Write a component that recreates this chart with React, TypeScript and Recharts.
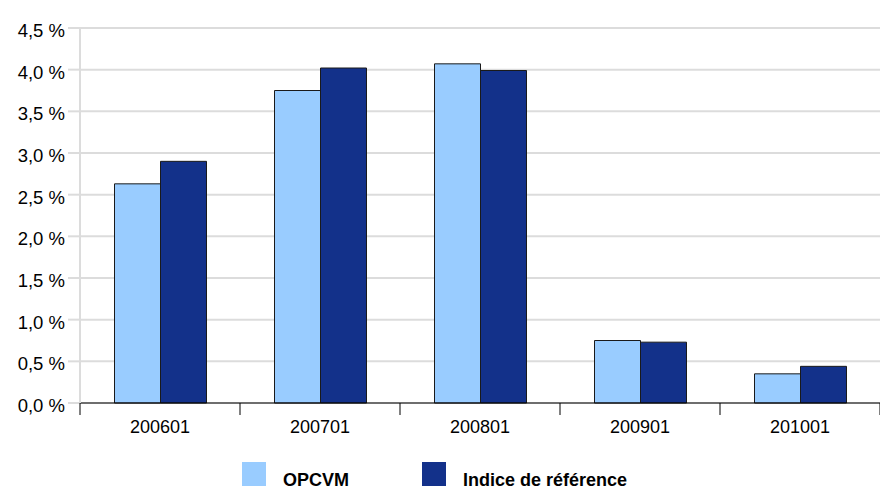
import React from "react";
import { BarChart, Bar, XAxis, YAxis, CartesianGrid, Legend } from "recharts";

const periods = ["200601", "200701", "200801", "200901", "201001"];
const opcvm = [2.63, 3.75, 4.07, 0.75, 0.35];
const indice = [2.9, 4.02, 3.99, 0.73, 0.44];
const yTicks = [0, 0.5, 1, 1.5, 2, 2.5, 3, 3.5, 4, 4.5];

const seriesNames = ["OPCVM", "Indice de référence"];
const COLORS = ["#99ccff", "#13318a"];

const data = periods.map((p, i) => ({ period: p, opcvm: opcvm[i], indice: indice[i] }));

const W = 880;
const H = 489;
const LEFT = 80;
const halfBand = (W - LEFT) / periods.length / 2;

const fmt = (v: number) => v.toFixed(1).replace(".", ",") + " %";

// label + boundary tick marks (ticks sit between categories, not under them)
function PeriodTick(props: any) {
  const { x, y, payload, index } = props;
  return (
    <g>
      <line x1={x - halfBand} y1={y} x2={x - halfBand} y2={y + 12} stroke="#000" />
      {index === periods.length - 1 && (
        <line x1={x + halfBand} y1={y} x2={x + halfBand} y2={y + 12} stroke="#000" />
      )}
      <text x={x} y={y + 30} textAnchor="middle" fontSize={18} fill="#000">
        {payload.value}
      </text>
    </g>
  );
}

function LegendBox() {
  return (
    <div style={{ height: 46, position: "relative", fontFamily: "'Liberation Sans', Arial, sans-serif" }}>
      {seriesNames.map((name, i) => (
        <div
          key={name}
          style={{ position: "absolute", top: 19, left: i === 0 ? 242 : 422, display: "flex", alignItems: "flex-end" }}
        >
          <div style={{ width: 24, height: 24, background: COLORS[i] }} />
          <span style={{ marginLeft: 17, fontSize: 18, fontWeight: "bold", lineHeight: "16px", position: "relative", top: 2, whiteSpace: "nowrap" }}>
            {name}
          </span>
        </div>
      ))}
    </div>
  );
}

export default function App() {
  return (
    <div style={{ position: "absolute", left: 0, top: 0, fontFamily: "'Liberation Sans', Arial, sans-serif" }}>
      <BarChart
        width={W}
        height={H}
        data={data}
        margin={{ top: 28, right: 0, bottom: 0, left: 0 }}
        barCategoryGap={34.5}
        barGap={0}
      >
        <CartesianGrid vertical={false} stroke="#dcdcdc" strokeWidth={2} />
        <XAxis
          dataKey="period"
          height={40}
          axisLine={{ stroke: "#000" }}
          tickLine={false}
          tickSize={0}
          tickMargin={0}
          tick={<PeriodTick />}
          interval={0}
        />
        <YAxis
          width={LEFT}
          domain={[0, 4.5]}
          ticks={yTicks}
          tickFormatter={fmt}
          tickSize={12}
          tickMargin={3}
          axisLine={{ stroke: "#dcdcdc", strokeWidth: 2 }}
          tickLine={{ stroke: "#dcdcdc", strokeWidth: 2 }}
          tick={{ fontSize: 18.5, fill: "#000", dy: 2.5 }}
          interval={0}
        />
        <Legend verticalAlign="bottom" wrapperStyle={{ left: 0, width: W }} content={<LegendBox />} />
        <Bar dataKey="opcvm" name={seriesNames[0]} fill={COLORS[0]} stroke="#1a1a1a" strokeWidth={1} isAnimationActive={false} />
        <Bar dataKey="indice" name={seriesNames[1]} fill={COLORS[1]} stroke="#1a1a1a" strokeWidth={1} isAnimationActive={false} />
      </BarChart>
    </div>
  );
}
